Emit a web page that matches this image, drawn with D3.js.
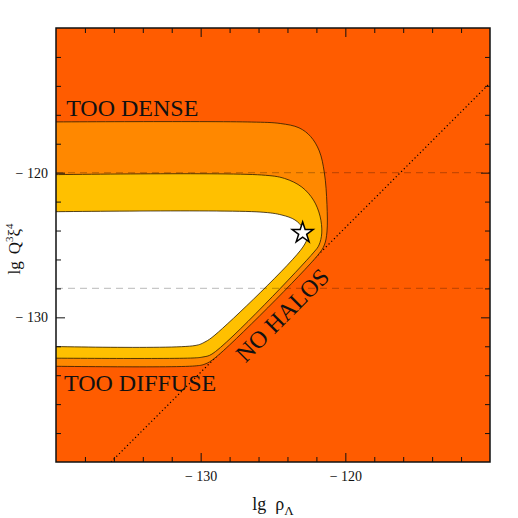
<!DOCTYPE html>
<html>
<head>
<meta charset="utf-8">
<script src="https://cdn.jsdelivr.net/npm/d3@7"></script>
<style>
  body { margin: 0; background: #fff; }
  text { font-family: "Liberation Serif", "DejaVu Serif", serif; fill: #111; }
</style>
</head>
<body>
<svg width="518" height="518"></svg>
<script>
// Axis ticks
var xMajor = [-130, -120];
var xMinor = [-138, -136, -134, -132, -128, -126, -124, -122, -118, -116, -114, -112];
var yMajor = [-120, -130];
var yMinor = [-112, -114, -116, -118, -122, -124, -126, -128, -132, -134, -136, -138];

// Contours, [lg rho_Lambda, lg Q^3 xi^4]
var outerContour = [[-142, -116.5], [-126.5, -116.5], [-124.5, -116.6], [-123.2, -116.9],
    [-122.4, -117.5], [-121.8, -118.5], [-121.45, -120.0], [-121.27, -122.2], [-121.27, -124.1],
    [-121.45, -125.0], [-121.9, -125.7], [-129.0, -132.8], [-129.7, -133.23], [-130.4, -133.36],
    [-142, -133.36]];
var middleContour = [[-142, -120.16], [-125.8, -120.16], [-124.2, -120.4], [-123.0, -121.0],
    [-122.2, -121.9], [-121.75, -123.0], [-121.63, -124.17], [-121.82, -125.0], [-122.17, -125.49],
    [-129.22, -132.54], [-129.84, -132.74], [-130.53, -132.81], [-142, -132.81]];
var innerContour = [[-142, -122.72], [-125.9, -122.72], [-124.38, -122.93], [-123.48, -123.27],
    [-122.93, -123.82], [-122.65, -124.45], [-122.93, -125.14], [-129.01, -131.22], [-129.7, -131.7],
    [-130.39, -131.95], [-142, -131.98]];

var dashedLevels = [-120, -128];
var noHaloLine = [[-136.2, -140], [-110, -113.8]];
var ourUniverse = [-122.95, -124.17];

var regionColors = ['#ff8800', '#ffc000', '#ffffff'];
var background = '#ff5c00';

var svg = d3.select('svg');
var padding = {t: 28, r: 28, b: 56, l: 56};
var chartWidth = 434, chartHeight = 434;

var x = d3.scaleLinear().domain([-140, -110]).range([padding.l, padding.l + chartWidth]);
var y = d3.scaleLinear().domain([-110, -140]).range([padding.t, padding.t + chartHeight]);

svg.append('clipPath').attr('id', 'plotClip')
  .append('rect')
  .attr('x', x(-140)).attr('y', y(-110))
  .attr('width', chartWidth).attr('height', chartHeight);

var plotG = svg.append('g').attr('clip-path', 'url(#plotClip)');

plotG.append('rect')
  .attr('x', x(-140)).attr('y', y(-110))
  .attr('width', chartWidth).attr('height', chartHeight)
  .attr('fill', background);

var line = d3.line()
  .x(function(d) { return x(d[0]); })
  .y(function(d) { return y(d[1]); });

// dotted "no halos" line, under the fills
plotG.append('path')
  .datum(noHaloLine)
  .attr('d', line)
  .attr('fill', 'none')
  .attr('stroke', '#000')
  .attr('stroke-width', 1.2)
  .attr('stroke-dasharray', '1.2,2.6');

var contourLine = d3.line()
  .x(function(d) { return x(d[0]); })
  .y(function(d) { return y(d[1]); })
  .curve(d3.curveCatmullRom.alpha(0.5));

[outerContour, middleContour, innerContour].forEach(function(c, i) {
  plotG.append('path')
    .datum(c)
    .attr('d', function(d) { return contourLine(d) + 'Z'; })
    .attr('fill', regionColors[i])
    .attr('stroke', '#2a1a00')
    .attr('stroke-width', 0.8);
});

plotG.selectAll('.dash')
  .data(dashedLevels)
  .enter().append('line')
  .attr('class', 'dash')
  .attr('x1', x(-140)).attr('x2', x(-110))
  .attr('y1', function(d) { return y(d); })
  .attr('y2', function(d) { return y(d); })
  .attr('stroke', '#000')
  .attr('stroke-opacity', 0.22)
  .attr('stroke-width', 1.2)
  .attr('stroke-dasharray', '7,5');

// axes with inward ticks on all four sides
function addAxis(axisFn, scale, major, minor, transform, labels, pad) {
  svg.append('g')
    .attr('transform', transform)
    .call(axisFn(scale).tickValues(minor).tickSize(-5).tickFormat(''))
    .call(function(g) { g.select('.domain').remove(); });
  var g = svg.append('g')
    .attr('transform', transform)
    .call(axisFn(scale).tickValues(major).tickSize(-9).tickPadding(pad)
      .tickFormat(labels ? function(d) { return '\u2212 ' + Math.abs(d); } : ''))
    .call(function(g) { g.select('.domain').remove(); });
  g.selectAll('text')
    .style('font-family', '"Liberation Serif", serif')
    .style('font-size', '14px')
    .attr('fill', '#111');
  svg.selectAll('.tick line').attr('stroke', '#111');
}

addAxis(d3.axisBottom, x, xMajor, xMinor, 'translate(0,' + y(-140) + ')', true, 9);
addAxis(d3.axisTop, x, xMajor, xMinor, 'translate(0,' + y(-110) + ')', false, 3);
addAxis(d3.axisLeft, y, yMajor, yMinor, 'translate(' + x(-140) + ',0)', true, 8);
addAxis(d3.axisRight, y, yMajor, yMinor, 'translate(' + x(-110) + ',0)', false, 3);

svg.append('rect')
  .attr('x', x(-140)).attr('y', y(-110))
  .attr('width', chartWidth).attr('height', chartHeight)
  .attr('fill', 'none')
  .attr('stroke', '#111')
  .attr('stroke-width', 1.5);

// our universe
svg.append('path')
  .attr('d', d3.symbol().type(d3.symbolStar).size(135))
  .attr('transform', 'translate(' + [x(ourUniverse[0]), y(ourUniverse[1])] + ')')
  .attr('fill', '#fff')
  .attr('stroke', '#000')
  .attr('stroke-width', 1.5);

// region labels
svg.append('text')
  .attr('x', x(-139.3)).attr('y', y(-116.08))
  .style('font-size', '24px')
  .text('TOO DENSE');

svg.append('text')
  .attr('x', x(-139.45)).attr('y', y(-135.09))
  .style('font-size', '24px')
  .text('TOO DIFFUSE');

svg.append('text')
  .attr('transform', 'translate(' + [x(-123.96), y(-130.25)] + ') rotate(-45)')
  .attr('text-anchor', 'middle')
  .style('font-size', '24px')
  .text('NO HALOS');

// axis titles
var xLabel = svg.append('text')
  .attr('x', x(-125)).attr('y', 510)
  .attr('text-anchor', 'middle')
  .style('font-size', '18px');
xLabel.append('tspan').text('lg');
xLabel.append('tspan').attr('dx', 9).text('\u03c1');
xLabel.append('tspan').attr('dy', 5).style('font-size', '13px').text('\u039b');

var yLabel = svg.append('text')
  .attr('transform', 'translate(20,' + (y(-125) + 4) + ') rotate(-90)')
  .attr('text-anchor', 'middle')
  .style('font-size', '17px');
yLabel.append('tspan').text('lg');
yLabel.append('tspan').attr('dx', 7).text('Q');
yLabel.append('tspan').attr('dy', -7).style('font-size', '11px').text('3');
yLabel.append('tspan').attr('dy', 7).text('\u03be');
yLabel.append('tspan').attr('dy', -7).style('font-size', '11px').text('4');
</script>
</body>
</html>
